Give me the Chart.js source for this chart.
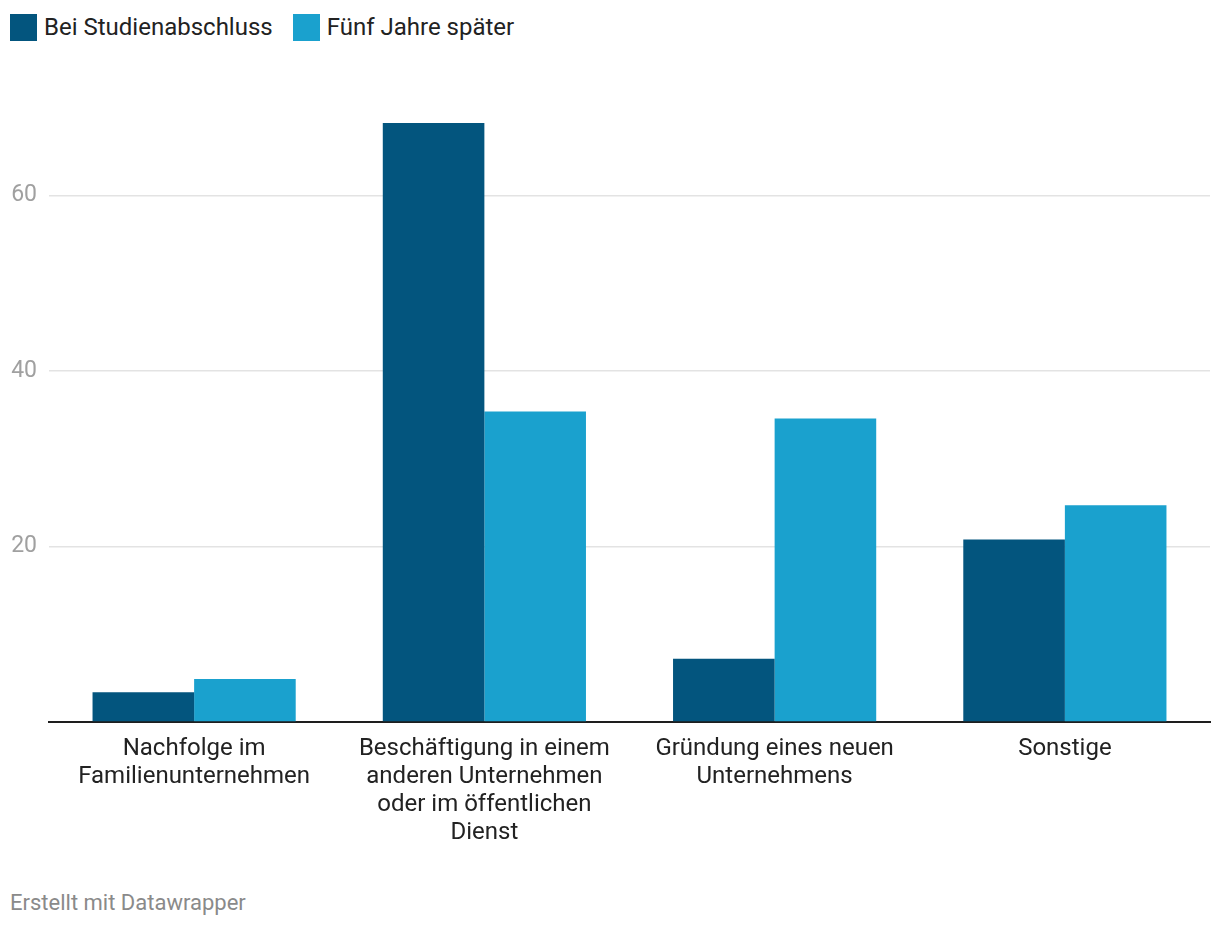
<!DOCTYPE html>
<html lang="de">
<head>
<meta charset="utf-8">
<script src="https://cdn.jsdelivr.net/npm/chart.js@4.4.1/dist/chart.umd.min.js"></script>
<style>
  html, body { margin: 0; padding: 0; background: #fff; }
  body { width: 1220px; height: 928px; position: relative; font-family: Roboto, "Noto Sans", sans-serif; overflow: hidden; }
  .legend { position: absolute; left: 10px; top: 13px; display: flex; align-items: center; font-size: 24px; line-height: 29px; color: #222; }
  .legend .item { display: flex; align-items: center; margin-right: 20px; }
  .legend .swatch { width: 27px; height: 27px; margin-right: 7px; }
  .chart-wrap { position: absolute; left: 0; top: 0; width: 1220px; height: 852px; }
  .footer { position: absolute; left: 10px; top: 889px; font-size: 22px; line-height: 28px; color: #8a8a8a; }
</style>
</head>
<body>

<div class="legend" id="legend"></div>
<div class="chart-wrap"><canvas id="chart"></canvas></div>
<div class="footer">Erstellt mit Datawrapper</div>

<script>
/* ===================== DATA ===================== */
const categories = [
  ["Nachfolge im", "Familienunternehmen"],
  ["Beschäftigung in einem", "anderen Unternehmen", "oder im öffentlichen", "Dienst"],
  ["Gründung eines neuen", "Unternehmens"],
  ["Sonstige"]
];
const seriesNames = ["Bei Studienabschluss", "Fünf Jahre später"];
const atGraduation = [3.4, 68.3, 7.2, 20.8];
const fiveYearsLater = [4.9, 35.4, 34.6, 24.7];
const yTicks = [0, 20, 40, 60];

const colors = ["#03557e", "#1aa1ce"];

/* ===================== LEGEND ===================== */
const legend = document.getElementById("legend");
seriesNames.forEach((name, i) => {
  const item = document.createElement("div");
  item.className = "item";
  item.innerHTML = '<span class="swatch" style="background:' + colors[i] + '"></span>' + name;
  legend.appendChild(item);
});

/* ===================== CHART ===================== */
const chart = new Chart(document.getElementById("chart"), {
  type: "bar",
  data: {
    labels: categories,
    datasets: [
      { label: seriesNames[0], data: atGraduation, backgroundColor: colors[0] },
      { label: seriesNames[1], data: fiveYearsLater, backgroundColor: colors[1] }
    ]
  },
  options: {
    responsive: true,
    maintainAspectRatio: false,
    animation: false,
    layout: {
      padding: { top: 108, right: 10, bottom: 0, left: 0 }
    },
    datasets: {
      bar: { categoryPercentage: 0.7, barPercentage: 1.0 }
    },
    plugins: {
      legend: { display: false },
      tooltip: { enabled: false }
    },
    scales: {
      x: {
        grid: { display: false },
        border: { display: true, color: "#1e1e1e", width: 2 },
        ticks: {
          color: "#222",
          padding: 5,
          maxRotation: 0,
          autoSkip: false,
          font: { family: "Roboto", size: 24, lineHeight: 1.167 }
        },
        afterFit: (scale) => { scale.height = 130; }
      },
      y: {
        min: 0,
        max: 70,
        border: { display: false },
        grid: {
          drawTicks: false,
          color: (ctx) => ctx.tick && ctx.tick.value === 0 ? "rgba(0,0,0,0)" : "#e3e3e3",
          lineWidth: 1.5
        },
        ticks: {
          color: "#a0a0a0",
          padding: 12,
          font: { family: "Roboto", size: 23 },
          callback: (value) => value === 0 ? "" : value
        },
        afterBuildTicks: (scale) => { scale.ticks = yTicks.map(v => ({ value: v })); },
        afterFit: (scale) => { scale.width = 49; }
      }
    }
  }
});
</script>
</body>
</html>
